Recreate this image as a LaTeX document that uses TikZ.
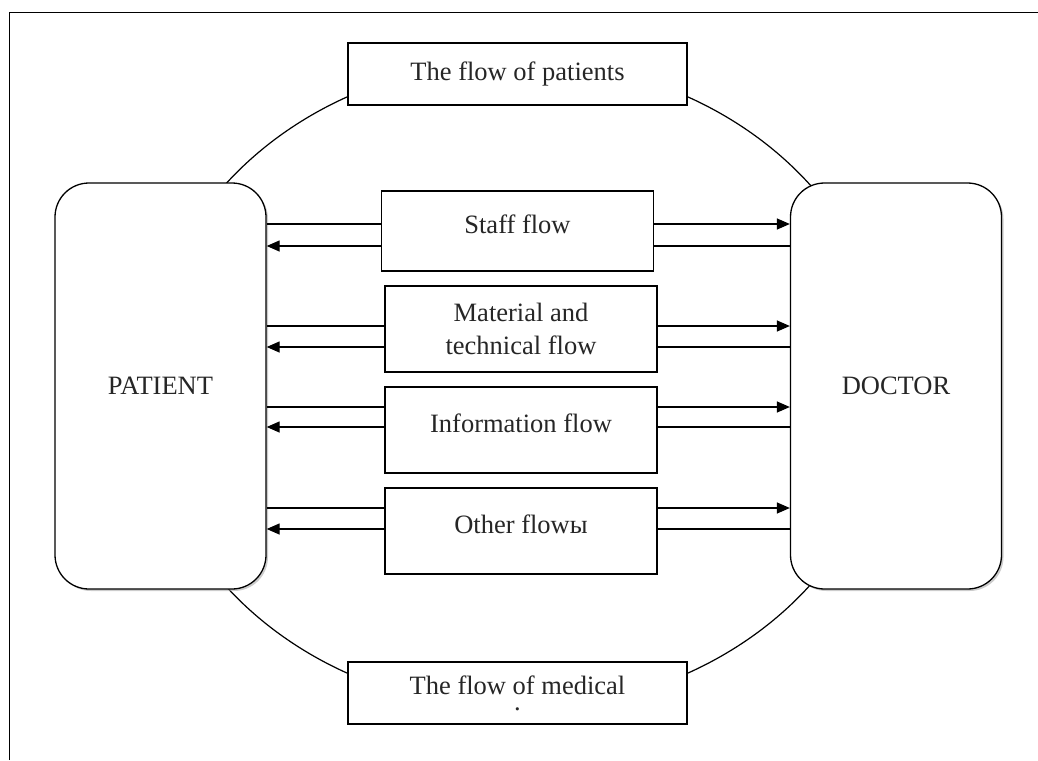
\documentclass[tikz,border=0pt]{standalone}
\usepackage{fontspec}
\setmainfont{Liberation Serif}
\usetikzlibrary{arrows.meta, shadows}

\begin{document}
\begin{tikzpicture}[x=1pt, y=-1pt,
    every node/.style={font=\fontsize{26.5}{33}\selectfont, text=black!85},
    flowbox/.style={draw, line width=1.3pt, fill=white, minimum width=272pt, minimum height=86pt, align=center},
    sidebox/.style={draw, line width=1.3pt, fill=white, rounded corners=34pt, minimum width=211pt, minimum height=406pt,
        drop shadow={shadow xshift=2pt, shadow yshift=-2pt, fill=black!40}},
    link/.style={line width=1.3pt},
    tip/.style={line width=1.3pt, -{Triangle[length=13pt, width=11pt]}}]
                \useasboundingbox (0,0) rectangle (1038,760);
                \draw[line width=0.9pt] (9,760) -- (9,12) -- (1038,12);
                \draw[line width=1.2pt] (517.5,385) ellipse [x radius=372, y radius=324];
                \node[sidebox] (patient) at (160.5,386) {PATIENT};
                \node[sidebox] (doctor) at (896,386) {DOCTOR};
                \node[flowbox, minimum height=62pt, minimum width=339pt] (patients) at (517.5,74) {The flow of patients};
                \node[flowbox, minimum height=62pt, minimum width=339pt] (medical) at (517.5,693) {The flow of medical\\[-17pt].};
                \node[flowbox, minimum height=80pt, text depth=14pt] (staff) at (517.5,231) {Staff flow};
                \node[flowbox] (material) at (521,329) {Material and\\technical flow};
                \node[flowbox, text depth=14pt] (info) at (521,430) {Information flow};
                \node[flowbox, text depth=14pt] (other) at (521,531) {Other flowы};
                \foreach \n/\ya/\yb in {staff/224/246, material/326/347, info/407/427, other/508/529}{
                    \draw[link] (patient.east |- 0,\ya) -- (\n.west |- 0,\ya);
                    \draw[tip] (\n.west |- 0,\yb) -- (patient.east |- 0,\yb);
                    \draw[tip] (\n.east |- 0,\ya) -- (doctor.west |- 0,\ya);
                    \draw[link] (doctor.west |- 0,\yb) -- (\n.east |- 0,\yb);
                }
            \end{tikzpicture}
\end{document}
